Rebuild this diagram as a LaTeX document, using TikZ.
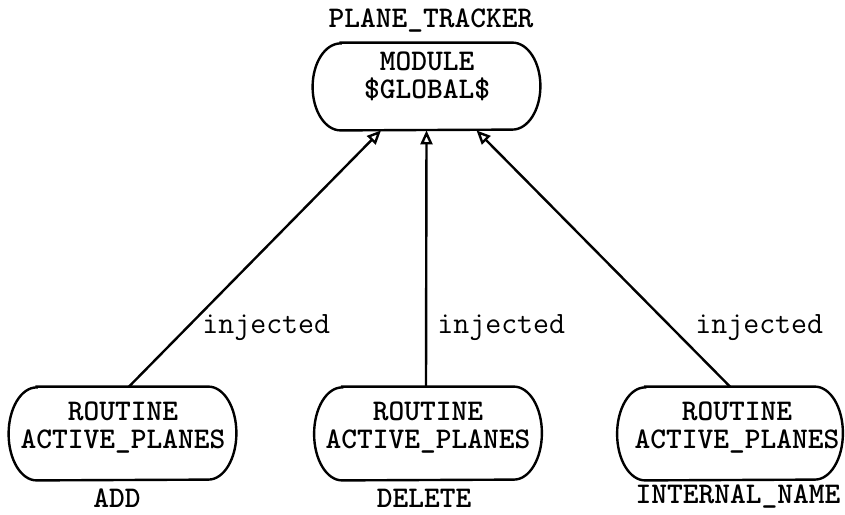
\documentclass[tikz,border=0pt]{standalone}
\usetikzlibrary{arrows.meta}
\begin{document}
\begin{tikzpicture}[x=0.5pt,y=-0.5pt,
  box/.style={rectangle, minimum width=113.5pt, minimum height=#1, inner sep=0pt},
  outline/.style={line width=1.2pt},
  txt/.style={font=\ttfamily\bfseries\fontsize{15}{14}\selectfont, inner sep=0pt, align=center},
  inj/.style={font=\ttfamily\fontsize{15.5}{16}\selectfont, inner sep=0pt, anchor=west},
  conn/.style={line width=1.2pt, -{Triangle[open,length=7pt,width=6pt]}}
]
\newcommand\stadium[2]{%
  \draw[outline] ([xshift=14pt]#1.north west) -- ([xshift=-14pt]#1.north east)
    arc[start angle=90,end angle=-90,x radius=14pt,y radius=#2]
    -- ([xshift=14pt]#1.south west)
    arc[start angle=270,end angle=90,x radius=14pt,y radius=#2] -- cycle;}
\useasboundingbox (0,0) rectangle (845,514);
% top module
\node[box=43.5pt] (m) at (426.5,86.5) {};
\node[txt] (mtx) at (427,76) {MODULE\\\$GLOBAL\$};
\node[txt] (mt) at (431,21) {PLANE\_TRACKER};
% bottom routines
\node[box=46.5pt] (l) at (122.5,433.5) {};
\node[box=46.5pt] (c) at (428,433.5) {};
\node[box=46.5pt, minimum width=112.5pt] (r) at (730,433.5) {};
\node[txt] (ltx) at (123,428) {ROUTINE\\ACTIVE\_PLANES};
\node[txt] (ctx) at (428,428) {ROUTINE\\ACTIVE\_PLANES};
\node[txt] (rtx) at (737,428) {ROUTINE\\ACTIVE\_PLANES};
\stadium{m}{21.75pt}
\stadium{l}{23.25pt}
\stadium{c}{23.25pt}
\stadium{r}{23.25pt}
\node[txt] (lt) at (117,498) {ADD};
\node[txt] (ct) at (424,498) {DELETE};
\node[txt] (rt) at (738,497) {INTERNAL\_NAME};
% connectors
\draw[conn] ([xshift=3.25pt]l.north) -- ([xshift=-22.75pt]m.south);
\draw[conn] ([xshift=-1pt]c.north) -- (m.south);
\draw[conn] (r.north) -- ([xshift=25pt]m.south);
\node[inj] (il) at (202,328) {injected};
\node[inj] (ic) at (437,328) {injected};
\node[inj] (ir) at (695,328) {injected};
\end{tikzpicture}
\end{document}
